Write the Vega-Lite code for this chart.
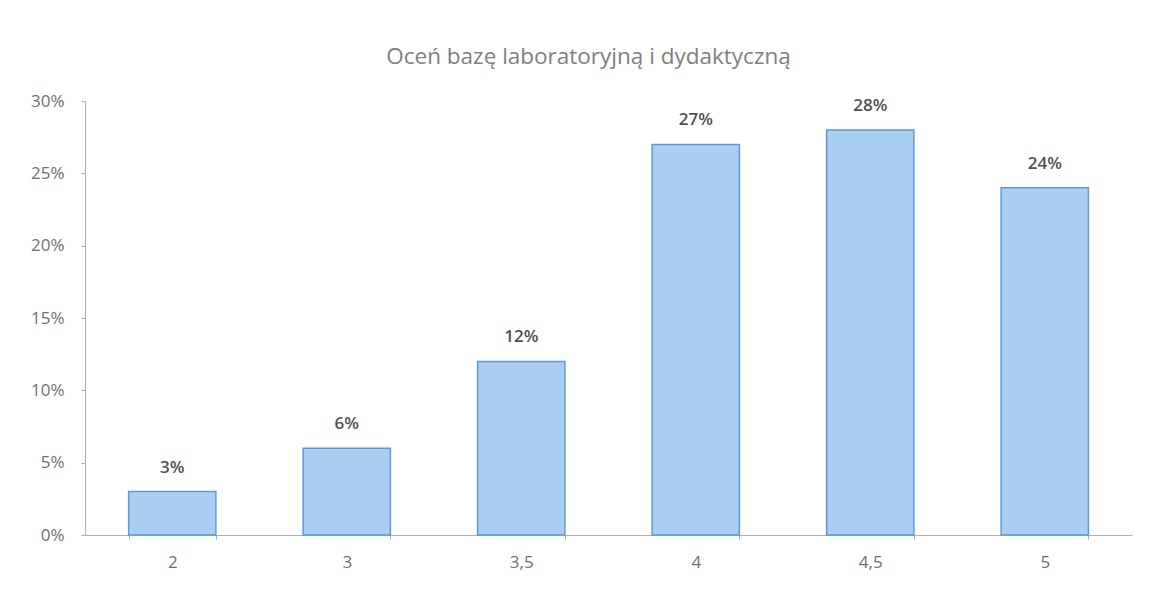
{
  "$schema": "https://vega.github.io/schema/vega-lite/v6.json",
  "width": 1047,
  "height": 434,
  "autosize": {"type": "none"},
  "padding": {"left": 85, "top": 101, "right": 17, "bottom": 54},
  "background": "white",
  "title": {
    "text": "Oceń bazę laboratoryjną i dydaktyczną",
    "font": "Open Sans",
    "fontSize": 22.5,
    "fontWeight": "normal",
    "color": "#808080",
    "anchor": "middle",
    "dx": -20,
    "offset": 24
  },
  "data": {
    "values": [
      {"ocena": "2", "pct": 0.03},
      {"ocena": "3", "pct": 0.06},
      {"ocena": "3,5", "pct": 0.12},
      {"ocena": "4", "pct": 0.27},
      {"ocena": "4,5", "pct": 0.28},
      {"ocena": "5", "pct": 0.24}
    ]
  },
  "config": {"view": {"stroke": null}},
  "encoding": {
    "x": {
      "field": "ocena",
      "type": "nominal",
      "sort": null,
      "scale": {"paddingInner": 0.5, "paddingOuter": 0.25},
      "axis": {
        "title": null,
        "labelAngle": 0,
        "labelFont": "Open Sans",
        "labelFontSize": 17,
        "labelColor": "#707070",
        "labelPadding": 15,
        "tickBand": "extent",
        "tickSize": 4,
        "tickColor": "#b0b0b0",
        "domainColor": "#b0b0b0"
      }
    },
    "y": {
      "field": "pct",
      "type": "quantitative",
      "scale": {"domain": [0, 0.3]},
      "axis": {
        "title": null,
        "format": ".0%",
        "values": [0, 0.05, 0.1, 0.15, 0.2, 0.25, 0.3],
        "grid": false,
        "labelFont": "Open Sans",
        "labelFontSize": 17,
        "labelColor": "#707070",
        "labelPadding": 17,
        "tickSize": 4,
        "tickColor": "#b0b0b0",
        "domainColor": "#b0b0b0"
      }
    }
  },
  "layer": [
    {
      "mark": {"type": "bar", "color": "#abcff2", "stroke": "#5b9bd5", "strokeWidth": 1.5}
    },
    {
      "mark": {"type": "text", "dy": -24, "font": "Open Sans", "fontSize": 17, "fontWeight": 600, "color": "#505050"},
      "encoding": {"text": {"field": "pct", "type": "quantitative", "format": ".0%"}}
    }
  ]
}
